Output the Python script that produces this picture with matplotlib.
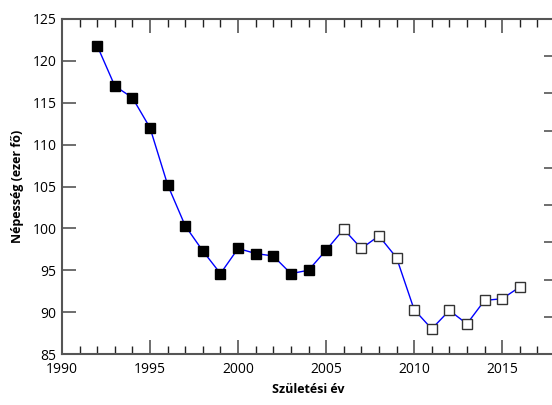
import matplotlib
matplotlib.use("Agg")
import matplotlib.pyplot as plt
from matplotlib.ticker import MultipleLocator

plt.rcParams['font.family'] = ['Open Sans', 'DejaVu Sans']

years_filled = [1992, 1993, 1994, 1995, 1996, 1997, 1998, 1999, 2000, 2001, 2002, 2003, 2004, 2005]
values_filled = [121.8, 117.0, 115.6, 112.0, 105.2, 100.3, 97.3, 94.6, 97.6, 97.0, 96.7, 94.6, 95.0, 97.4]
years_open = [2006, 2007, 2008, 2009, 2010, 2011, 2012, 2013, 2014, 2015, 2016]
values_open = [99.9, 97.6, 99.1, 96.5, 90.3, 88.0, 90.2, 88.6, 91.4, 91.6, 93.0]

fig = plt.figure(figsize=(5.52, 4.05), dpi=100)
ax = fig.add_axes([62/552, 51/405, (555-62)/552, (354-19)/405])

all_years = years_filled + years_open
all_vals = values_filled + values_open
ax.plot(all_years, all_vals, color='#0000ff', lw=1.0, zorder=2)
ax.plot(years_filled, values_filled, 's', color='black', ms=7.5, mec='black', zorder=3)
ax.plot(years_open, values_open, 's', mfc='white', mec='#333333', mew=1.0, ms=7.5, zorder=3)

ax.set_xlim(1990, 2018)
ax.set_ylim(85, 125)
ax.xaxis.set_major_locator(MultipleLocator(5))
ax.xaxis.set_minor_locator(MultipleLocator(1))
ax.yaxis.set_major_locator(MultipleLocator(5))

spine_c = '#555555'
for s in ['left', 'bottom', 'top']:
    ax.spines[s].set_color(spine_c)
    ax.spines[s].set_linewidth(1.5)
ax.spines['right'].set_visible(False)

ax.tick_params(axis='x', which='major', direction='in', length=10, width=1.2, color=spine_c, top=True, labelsize=10, pad=6)
ax.tick_params(axis='x', which='minor', direction='in', length=6, width=1.0, color='#222222', top=True)
ax.tick_params(axis='y', which='major', direction='in', length=10, width=1.2, color=spine_c, labelsize=10, pad=4)

ax.set_xlabel('Születési év', fontsize=9, fontweight='bold', labelpad=4)
ax.set_ylabel('Népesség (ezer fő)', fontsize=9, fontweight='bold', labelpad=6)

ax2 = ax.twinx()
ax2.set_ylim(0, 9)
ax2.set_yticks([1, 2, 3, 4, 5, 6, 7, 8])
ax2.set_yticklabels([])
ax2.tick_params(axis='y', direction='in', length=8, width=1.2, color=spine_c)
for s in ax2.spines.values():
    s.set_visible(False)

fig.savefig('out.png', dpi=100)
